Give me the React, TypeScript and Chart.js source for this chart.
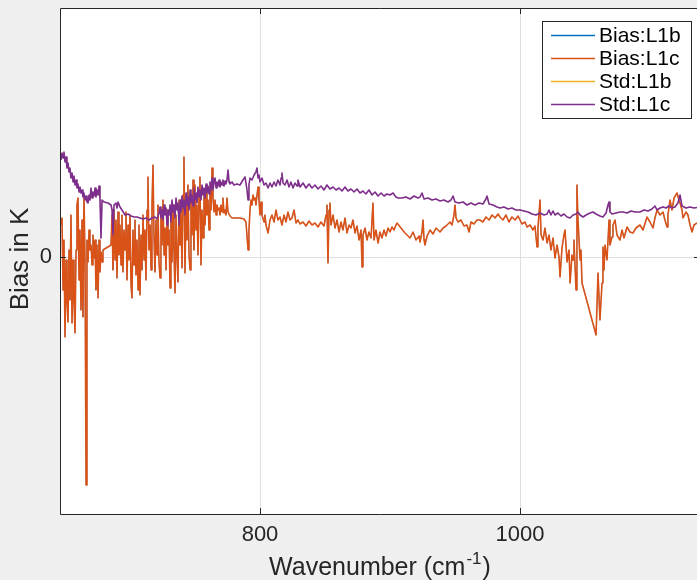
import React, { useEffect, useRef } from 'react';
import { Chart, registerables } from 'chart.js';

Chart.register(...registerables);

const FONT = '"Liberation Sans", Arial, Helvetica, sans-serif';
const TEXT = '#262626';

const X_MIN = 646.15;
const X_MAX = 1136.15;
const Y_MIN = -2.57;
const Y_MAX = 2.49;
const xTicks = [800, 1000];
const yTicks = [0];
const xTitle = 'Wavenumber (cm';
const xTitleSup = '-1';
const yTitle = 'Bias in K';
const seriesLabels = ['Bias:L1b', 'Bias:L1c', 'Std:L1b', 'Std:L1c'];
const seriesColors = ['#0072BD', '#D95319', '#EDB120', '#7E2F8E'];

// [wavenumber, value]
const biasL1c: [number, number][] = [
  [646.9, 0.32], [647.7, 0.39], [648.5, -0.33], [649.2, 0.17], [650.0, -0.80], [650.8, -0.03], [651.5, -0.43],
  [652.3, -0.65], [653.1, 0.07], [653.8, -0.43], [654.6, 0.42], [655.4, -0.66], [656.2, -0.03], [656.9, -0.43],
  [657.7, -0.76], [658.5, 0.07], [659.2, 0.52], [660.0, 0.59], [660.8, -0.23], [661.5, 0.27], [662.3, -0.53],
  [663.1, 0.37], [663.8, -0.60], [664.6, 0.62], [665.4, -0.03], [666.2, -2.28], [666.9, 0.17], [667.7, -0.05],
  [668.5, 0.27], [669.2, 0.07], [670.0, 0.12], [670.8, -0.08], [671.5, 0.22], [672.3, -0.01], [673.1, 0.17],
  [673.8, -0.33], [674.6, 0.12], [675.4, -0.41], [676.2, 0.17], [676.9, -0.15], [677.7, 0.05], [678.5, -0.05],
  [679.2, 0.07], [685.4, 0.12], [686.2, 0.42], [686.9, -0.13], [687.7, 0.47], [688.5, -0.03], [689.2, 0.37],
  [690.0, -0.21], [690.8, 0.45], [691.5, 0.02], [692.3, 0.32], [693.1, -0.08], [693.8, 0.42], [694.6, -0.15],
  [695.4, 0.27], [696.2, 0.07], [696.9, 0.45], [697.7, -0.23], [698.5, 0.32], [699.2, -0.03], [700.0, 0.42],
  [700.8, -0.28], [701.5, -0.41], [702.3, 0.27], [703.1, -0.08], [703.8, 0.37], [704.6, -0.18], [705.4, 0.17],
  [706.2, -0.33], [706.9, 0.32], [707.7, -0.38], [708.5, 0.22], [709.2, -0.13], [710.0, 0.42], [710.8, -0.03],
  [711.5, 0.27], [712.3, -0.23], [713.1, 0.47], [713.8, 0.80], [714.6, 0.07], [715.4, 0.32], [716.2, -0.13],
  [716.9, 0.52], [717.7, 0.92], [718.5, 0.17], [719.2, -0.15], [720.0, 0.37], [720.8, 0.02], [721.5, 0.52],
  [722.3, -0.05], [723.1, -0.21], [723.8, 0.42], [724.6, 0.12], [725.4, 0.57], [726.2, 0.02], [726.9, 0.29],
  [727.7, -0.13], [728.5, 0.47], [729.2, 0.12], [730.0, 0.27], [730.8, -0.31], [731.5, 0.37], [732.3, -0.05],
  [733.1, 0.52], [733.8, 0.07], [734.6, -0.36], [735.4, 0.42], [736.2, -0.01], [736.9, -0.25], [737.7, 0.57],
  [738.5, 0.12], [739.2, 0.47], [740.0, -0.11], [740.8, 0.62], [741.5, 1.00], [742.3, -0.16], [743.1, 0.52],
  [743.8, 0.17], [744.6, 0.72], [745.4, 0.02], [746.2, -0.13], [746.9, 0.57], [747.7, 0.22], [748.5, 0.77],
  [749.2, 0.07], [750.0, 0.72], [750.8, 0.27], [751.5, 0.52], [752.3, 0.02], [753.1, 0.62], [753.8, 0.80],
  [754.6, -0.08], [755.4, 0.47], [756.2, 0.19], [756.9, 0.62], [757.7, 0.32], [758.5, 0.67], [759.2, 0.42],
  [760.0, 0.57], [760.8, 0.27], [761.5, 0.67], [762.3, 0.47], [763.1, 0.89], [763.8, 0.60], [764.6, 0.45],
  [765.4, 0.57], [766.2, 0.42], [766.9, 0.52], [767.7, 0.47], [768.5, 0.49], [769.2, 0.42], [770.0, 0.52],
  [770.8, 0.45], [771.5, 0.59], [772.3, 0.44], [773.1, 0.47], [773.8, 0.42], [774.6, 0.59], [775.4, 0.45],
  [776.9, 0.41], [778.5, 0.39], [781.5, 0.39], [784.6, 0.39], [787.7, 0.38], [789.2, 0.35], [790.8, 0.07],
  [791.5, 0.27], [792.3, 0.47], [793.1, 0.57], [793.8, 0.52], [794.6, 0.62], [795.4, 0.57], [796.2, 0.59],
  [796.9, 0.52], [797.7, 0.62], [798.5, 0.70], [799.2, 0.57], [800.0, 0.42], [800.8, 0.55], [801.5, 0.42],
  [803.1, 0.35], [803.8, 0.42], [804.6, 0.32], [806.2, 0.24], [807.7, 0.37], [809.2, 0.42], [810.8, 0.35],
  [812.3, 0.47], [813.8, 0.37], [815.4, 0.40], [816.9, 0.32], [818.5, 0.42], [820.0, 0.35], [821.5, 0.45],
  [823.1, 0.37], [824.6, 0.39], [826.2, 0.47], [827.7, 0.34], [829.2, 0.37], [830.8, 0.33], [833.1, 0.35],
  [835.4, 0.31], [837.7, 0.36], [840.0, 0.32], [842.3, 0.34], [844.6, 0.30], [846.9, 0.35], [849.2, 0.31],
  [850.8, 0.42], [851.5, 0.52], [852.3, -0.06], [853.1, 0.47], [853.8, 0.54], [854.6, 0.32], [856.2, 0.42],
  [857.7, 0.29], [859.2, 0.37], [860.8, 0.25], [862.3, 0.35], [863.8, 0.27], [865.4, 0.39], [866.9, 0.24],
  [868.5, 0.32], [870.0, 0.29], [871.5, 0.37], [873.1, 0.24], [874.6, 0.31], [876.2, 0.17], [877.7, 0.27],
  [878.5, -0.10], [879.2, 0.22], [880.8, 0.29], [882.3, 0.17], [883.8, 0.25], [885.4, 0.19], [886.9, 0.54],
  [887.7, 0.17], [889.2, 0.27], [890.8, 0.14], [892.3, 0.25], [893.8, 0.19], [895.4, 0.27], [896.9, 0.21],
  [898.5, 0.29], [900.0, 0.25], [901.5, 0.30], [903.1, 0.27], [904.6, 0.32], [905.4, 0.34], [911.5, 0.24],
  [913.1, 0.22], [915.4, 0.19], [917.7, 0.25], [920.0, 0.17], [922.3, 0.21], [923.1, 0.15], [924.6, 0.25],
  [925.4, 0.37], [926.2, 0.17], [926.9, 0.12], [928.5, 0.21], [930.8, 0.27], [933.1, 0.23], [935.4, 0.29],
  [938.5, 0.25], [940.8, 0.29], [943.1, 0.31], [946.2, 0.35], [947.7, 0.32], [949.2, 0.42], [950.0, 0.52],
  [950.8, 0.39], [952.3, 0.35], [954.6, 0.37], [956.9, 0.31], [959.2, 0.32], [960.8, 0.25], [962.3, 0.35],
  [964.6, 0.33], [966.9, 0.37], [969.2, 0.37], [971.5, 0.35], [973.8, 0.40], [976.2, 0.37], [978.5, 0.42],
  [980.8, 0.39], [983.1, 0.43], [984.6, 0.40], [986.9, 0.37], [989.2, 0.42], [991.5, 0.35], [993.8, 0.40],
  [996.2, 0.37], [998.5, 0.41], [1000.0, 0.37], [1001.5, 0.33], [1003.8, 0.35], [1005.4, 0.30], [1007.7, 0.32],
  [1010.0, 0.27], [1011.5, 0.31], [1013.1, 0.10], [1013.8, 0.29], [1015.4, 0.57], [1016.2, 0.22], [1017.7, 0.17],
  [1019.2, 0.29], [1020.8, 0.14], [1022.3, 0.22], [1023.8, 0.07], [1025.4, 0.19], [1026.9, -0.01], [1028.5, 0.12],
  [1030.0, 0.00], [1030.8, -0.20], [1032.3, 0.09], [1033.8, 0.22], [1034.6, 0.27], [1036.2, -0.05], [1037.7, 0.07],
  [1038.5, -0.26], [1040.0, 0.02], [1040.8, -0.03], [1041.5, 0.17], [1043.1, -0.33], [1043.8, 0.72], [1044.6, 0.37],
  [1046.2, -0.03], [1046.9, 0.07], [1047.7, -0.26], [1058.5, -0.78], [1060.0, -0.16], [1061.5, -0.63], [1063.1, -0.26],
  [1063.8, 0.10], [1064.6, -0.13], [1065.4, 0.12], [1066.9, -0.03], [1068.5, 0.37], [1069.2, 0.12], [1070.8, 0.20],
  [1071.5, 0.32], [1073.1, 0.37], [1074.6, 0.22], [1076.9, 0.17], [1078.5, 0.27], [1080.0, 0.19], [1082.3, 0.30],
  [1084.6, 0.25], [1086.9, 0.24], [1089.2, 0.29], [1092.3, 0.32], [1094.6, 0.27], [1097.7, 0.40], [1100.0, 0.35],
  [1102.3, 0.29], [1103.8, 0.39], [1105.4, 0.47], [1107.7, 0.42], [1110.0, 0.45], [1111.5, 0.37], [1113.1, 0.30],
  [1113.8, 0.42], [1115.4, 0.57], [1116.9, 0.47], [1118.5, 0.59], [1120.8, 0.64], [1122.3, 0.57], [1123.1, 0.54],
  [1124.6, 0.47], [1125.4, 0.39], [1127.7, 0.45], [1129.2, 0.42], [1130.8, 0.32], [1132.3, 0.25], [1133.8, 0.32],
  [1136.2, 0.34], [1138.5, 0.29],
];

const stdL1c: [number, number][] = [
  [646.9, 0.97], [647.7, 1.04], [648.5, 0.99], [649.2, 1.05], [650.0, 0.95], [650.8, 1.00], [651.5, 0.89],
  [652.3, 0.94], [653.1, 0.85], [653.8, 0.89], [654.6, 0.79], [655.4, 0.84], [656.2, 0.75], [656.9, 0.81],
  [657.7, 0.72], [658.5, 0.77], [659.2, 0.69], [660.0, 0.73], [660.8, 0.65], [661.5, 0.70], [662.3, 0.64],
  [663.1, 0.67], [663.8, 0.60], [664.6, 0.64], [665.4, 0.57], [666.2, 0.61], [666.9, 0.55], [667.7, 0.54],
  [668.5, 0.62], [669.2, 0.57], [670.0, 0.69], [670.8, 0.59], [671.5, 0.65], [672.3, 0.61], [673.1, 0.69],
  [673.8, 0.60], [674.6, 0.67], [675.4, 0.62], [676.2, 0.71], [676.9, 0.59], [677.7, 0.19], [678.5, 0.57],
  [680.0, 0.55], [683.1, 0.54], [685.4, 0.52], [686.2, 0.47], [686.9, 0.22], [687.7, 0.52], [689.2, 0.54],
  [690.0, 0.49], [690.8, 0.55], [692.3, 0.50], [693.8, 0.47], [696.2, 0.42], [698.5, 0.43], [700.8, 0.41],
  [703.1, 0.40], [705.4, 0.40], [707.7, 0.39], [710.0, 0.38], [712.3, 0.39], [714.6, 0.37], [716.9, 0.39],
  [719.2, 0.40], [720.8, 0.38], [722.3, 0.44], [723.1, 0.50], [723.8, 0.39], [724.6, 0.47], [725.4, 0.37],
  [726.2, 0.52], [726.9, 0.42], [727.7, 0.49], [728.5, 0.32], [729.2, 0.47], [730.0, 0.42], [730.8, 0.52],
  [731.5, 0.35], [732.3, 0.57], [733.1, 0.45], [733.8, 0.52], [734.6, 0.39], [735.4, 0.59], [736.2, 0.47],
  [736.9, 0.54], [737.7, 0.32], [738.5, 0.57], [739.2, 0.45], [740.0, 0.61], [740.8, 0.49], [741.5, 0.57],
  [742.3, 0.42], [743.1, 0.64], [743.8, 0.52], [744.6, 0.60], [745.4, 0.47], [746.2, 0.67], [746.9, 0.54],
  [747.7, 0.62], [748.5, 0.51], [749.2, 0.69], [750.0, 0.57], [750.8, 0.64], [751.5, 0.54], [752.3, 0.70],
  [753.1, 0.60], [753.8, 0.67], [754.6, 0.57], [755.4, 0.72], [756.2, 0.62], [756.9, 0.69], [757.7, 0.59],
  [758.5, 0.73], [759.2, 0.64], [760.0, 0.71], [760.8, 0.63], [761.5, 0.75], [762.3, 0.67], [763.1, 0.79],
  [763.8, 0.67], [764.6, 0.74], [765.4, 0.79], [766.2, 0.69], [766.9, 0.75], [767.7, 0.71], [768.5, 0.77],
  [769.2, 0.70], [770.0, 0.75], [770.8, 0.72], [771.5, 0.77], [772.3, 0.71], [773.1, 0.76], [773.8, 0.73],
  [774.6, 0.77], [775.4, 0.87], [776.2, 0.75], [776.9, 0.73], [778.5, 0.75], [780.0, 0.72], [782.3, 0.73],
  [784.6, 0.72], [786.9, 0.77], [788.5, 0.80], [790.0, 0.67], [790.8, 0.57], [791.5, 0.72], [792.3, 0.79],
  [793.8, 0.77], [795.4, 0.82], [796.9, 0.85], [797.7, 0.89], [798.5, 0.79], [799.2, 0.82], [800.0, 0.75],
  [801.5, 0.79], [803.1, 0.72], [804.6, 0.74], [806.2, 0.69], [807.7, 0.74], [809.2, 0.70], [810.8, 0.75],
  [812.3, 0.71], [813.8, 0.77], [815.4, 0.72], [816.2, 0.79], [816.9, 0.84], [817.7, 0.74], [819.2, 0.72],
  [820.8, 0.77], [822.3, 0.70], [823.8, 0.75], [825.4, 0.69], [826.9, 0.74], [828.5, 0.71], [829.2, 0.77],
  [830.8, 0.70], [833.1, 0.74], [835.4, 0.69], [837.7, 0.73], [840.0, 0.69], [842.3, 0.72], [844.6, 0.68],
  [846.9, 0.71], [849.2, 0.67], [851.5, 0.72], [853.8, 0.68], [856.2, 0.70], [858.5, 0.67], [860.8, 0.69],
  [863.1, 0.66], [865.4, 0.70], [867.7, 0.66], [870.0, 0.68], [872.3, 0.65], [874.6, 0.68], [876.9, 0.64],
  [879.2, 0.66], [881.5, 0.63], [883.8, 0.67], [886.2, 0.62], [888.5, 0.65], [890.8, 0.61], [893.1, 0.64],
  [895.4, 0.61], [897.7, 0.63], [900.0, 0.62], [902.3, 0.64], [904.6, 0.60], [906.2, 0.59], [909.2, 0.59],
  [912.3, 0.60], [915.4, 0.58], [918.5, 0.61], [921.5, 0.59], [923.1, 0.60], [924.6, 0.64], [926.2, 0.58],
  [929.2, 0.59], [932.3, 0.57], [935.4, 0.58], [938.5, 0.56], [941.5, 0.57], [944.6, 0.55], [946.9, 0.57],
  [948.5, 0.61], [950.0, 0.55], [953.1, 0.54], [956.2, 0.55], [959.2, 0.52], [962.3, 0.54], [965.4, 0.52],
  [968.5, 0.54], [971.5, 0.53], [973.8, 0.58], [974.6, 0.61], [976.2, 0.53], [979.2, 0.52], [982.3, 0.50],
  [984.6, 0.49], [987.7, 0.50], [990.8, 0.48], [993.8, 0.49], [996.9, 0.47], [1000.0, 0.47], [1003.1, 0.46],
  [1006.2, 0.45], [1009.2, 0.43], [1012.3, 0.42], [1015.4, 0.44], [1018.5, 0.42], [1020.8, 0.43], [1022.3, 0.47],
  [1023.8, 0.42], [1025.4, 0.46], [1026.9, 0.42], [1029.2, 0.44], [1031.5, 0.41], [1033.8, 0.43], [1036.2, 0.40],
  [1038.5, 0.39], [1040.8, 0.42], [1043.1, 0.43], [1044.6, 0.45], [1046.2, 0.42], [1048.5, 0.40], [1050.8, 0.42],
  [1053.8, 0.44], [1056.2, 0.45], [1058.5, 0.43], [1061.5, 0.41], [1063.8, 0.40], [1066.2, 0.44], [1067.7, 0.52],
  [1068.5, 0.55], [1069.2, 0.45], [1070.8, 0.43], [1073.8, 0.44], [1076.9, 0.45], [1079.2, 0.45], [1082.3, 0.44],
  [1085.4, 0.46], [1088.5, 0.45], [1092.3, 0.45], [1095.4, 0.47], [1098.5, 0.46], [1101.5, 0.48], [1103.8, 0.51],
  [1105.4, 0.47], [1107.7, 0.49], [1110.0, 0.50], [1112.3, 0.49], [1114.6, 0.51], [1116.9, 0.49], [1119.2, 0.50],
  [1121.5, 0.54], [1123.1, 0.62], [1124.6, 0.51], [1127.7, 0.49], [1130.8, 0.50], [1133.8, 0.49], [1138.5, 0.50],
];

// L1b results coincide with L1c and are drawn underneath them
const biasL1b = biasL1c;
const stdL1b = stdL1c;

const seriesData = [biasL1b, biasL1c, stdL1b, stdL1c];
const seriesOrder = [3, 2, 1, 0];
const seriesWidth = [0.5, 1.6, 0.5, 1.6];

const framePlugin = {
  id: 'matlabFrame',
  beforeDraw(chart: any) {
    const { ctx, chartArea: a, width, height } = chart;
    ctx.save();
    ctx.fillStyle = '#efefef';
    ctx.fillRect(0, 0, width, height);
    ctx.fillStyle = '#ffffff';
    ctx.fillRect(a.left, a.top, a.right - a.left + 10, a.bottom - a.top);
    ctx.restore();
  },
  afterDraw(chart: any) {
    const { ctx, chartArea: a } = chart;
    const xs = chart.scales.x;
    const ys = chart.scales.y;
    ctx.save();
    // axes box
    ctx.strokeStyle = TEXT;
    ctx.lineWidth = 1;
    ctx.beginPath();
    ctx.moveTo(a.right + 10, a.top + 0.5);
    ctx.lineTo(a.left + 0.5, a.top + 0.5);
    ctx.lineTo(a.left + 0.5, a.bottom + 0.5);
    ctx.lineTo(a.right + 10, a.bottom + 0.5);
    for (const v of xTicks) {
      const px = Math.round(xs.getPixelForValue(v)) + 0.5;
      ctx.moveTo(px, a.bottom);
      ctx.lineTo(px, a.bottom - 6);
      ctx.moveTo(px, a.top);
      ctx.lineTo(px, a.top + 6);
    }
    for (const v of yTicks) {
      const py = Math.round(ys.getPixelForValue(v)) + 0.5;
      ctx.moveTo(a.left, py);
      ctx.lineTo(a.left + 6, py);
      ctx.moveTo(a.right, py);
      ctx.lineTo(a.right - 3, py);
    }
    ctx.stroke();

    // axis titles
    ctx.fillStyle = TEXT;
    ctx.textBaseline = 'alphabetic';
    ctx.font = `26px ${FONT}`;
    ctx.textAlign = 'center';
    ctx.save();
    ctx.translate(28, (a.top + a.bottom) / 2 - 2);
    ctx.rotate(-Math.PI / 2);
    ctx.fillText(yTitle, 0, 0);
    ctx.restore();

    ctx.textAlign = 'left';
    ctx.font = `25px ${FONT}`;
    const wMain = ctx.measureText(xTitle).width;
    const wClose = ctx.measureText(')').width;
    ctx.font = `17px ${FONT}`;
    const wSup = ctx.measureText(xTitleSup).width;
    const total = wMain + wSup + wClose + 2;
    let tx = 380 - total / 2;
    const base = 575;
    ctx.font = `25px ${FONT}`;
    ctx.fillText(xTitle, tx, base);
    tx += wMain + 1;
    ctx.font = `17px ${FONT}`;
    ctx.fillText(xTitleSup, tx, base - 11);
    tx += wSup + 1;
    ctx.font = `25px ${FONT}`;
    ctx.fillText(')', tx, base);

    // legend
    const lx = 542.5, ly = 21.5, lw = 149, lh = 97;
    ctx.fillStyle = '#ffffff';
    ctx.fillRect(lx, ly, lw, lh);
    ctx.strokeStyle = TEXT;
    ctx.lineWidth = 1;
    ctx.strokeRect(lx, ly, lw, lh);
    ctx.font = `21px ${FONT}`;
    ctx.textBaseline = 'middle';
    chart.data.datasets.forEach((ds: any, i: number) => {
      const ry = 35 + i * 23;
      ctx.strokeStyle = ds.borderColor;
      ctx.lineWidth = 1.5;
      ctx.beginPath();
      ctx.moveTo(551, ry + 0.5);
      ctx.lineTo(595, ry + 0.5);
      ctx.stroke();
      ctx.fillStyle = '#000000';
      ctx.fillText(ds.label, 599, ry + 1);
    });
    ctx.restore();
  },
};

export default function App() {
  const ref = useRef<HTMLCanvasElement | null>(null);

  useEffect(() => {
    if (!ref.current) return;
    const chart = new Chart(ref.current, {
      type: 'line',
      data: {
        datasets: seriesLabels.map((label, i) => ({
          label,
          data: seriesData[i].map(([x, y]) => ({ x, y })),
          borderColor: seriesColors[i],
          backgroundColor: seriesColors[i],
          borderWidth: seriesWidth[i],
          borderJoinStyle: 'round' as const,
          pointRadius: 0,
          pointHoverRadius: 0,
          tension: 0,
          fill: false,
          order: seriesOrder[i],
        })),
      },
      options: {
        animation: false,
        responsive: false,
        events: [],
        layout: { padding: { top: 8, left: 0, right: 0, bottom: 0 } },
        plugins: {
          legend: { display: false },
          tooltip: { enabled: false },
          title: { display: false },
        },
        scales: {
          x: {
            type: 'linear',
            min: X_MIN,
            max: X_MAX,
            afterBuildTicks: (s: any) => {
              s.ticks = xTicks.map((v) => ({ value: v }));
            },
            afterFit: (s: any) => {
              s.height = 66;
              s.paddingLeft = 0;
              s.paddingRight = 0;
            },
            ticks: {
              font: { family: FONT, size: 22 },
              color: TEXT,
              padding: 8,
              maxRotation: 0,
              autoSkip: false,
              callback: (v: any) => String(v),
            },
            grid: { color: '#dedede', lineWidth: 1, drawTicks: false },
            border: { display: false },
          },
          y: {
            type: 'linear',
            min: Y_MIN,
            max: Y_MAX,
            afterBuildTicks: (s: any) => {
              s.ticks = yTicks.map((v) => ({ value: v }));
            },
            afterFit: (s: any) => {
              s.width = 60;
              s.paddingTop = 0;
              s.paddingBottom = 0;
            },
            ticks: {
              font: { family: FONT, size: 22 },
              color: TEXT,
              padding: 8,
              callback: (v: any) => String(v),
            },
            grid: { color: '#dedede', lineWidth: 1, drawTicks: false },
            border: { display: false },
          },
        },
      },
      plugins: [framePlugin],
    });
    return () => chart.destroy();
  }, []);

  return (
    <div
      style={{
        position: 'fixed',
        left: 0,
        top: 0,
        width: 697,
        height: 580,
        overflow: 'hidden',
        background: '#efefef',
      }}
    >
      <canvas ref={ref} width={697} height={580} style={{ display: 'block', width: 697, height: 580 }} />
    </div>
  );
}
